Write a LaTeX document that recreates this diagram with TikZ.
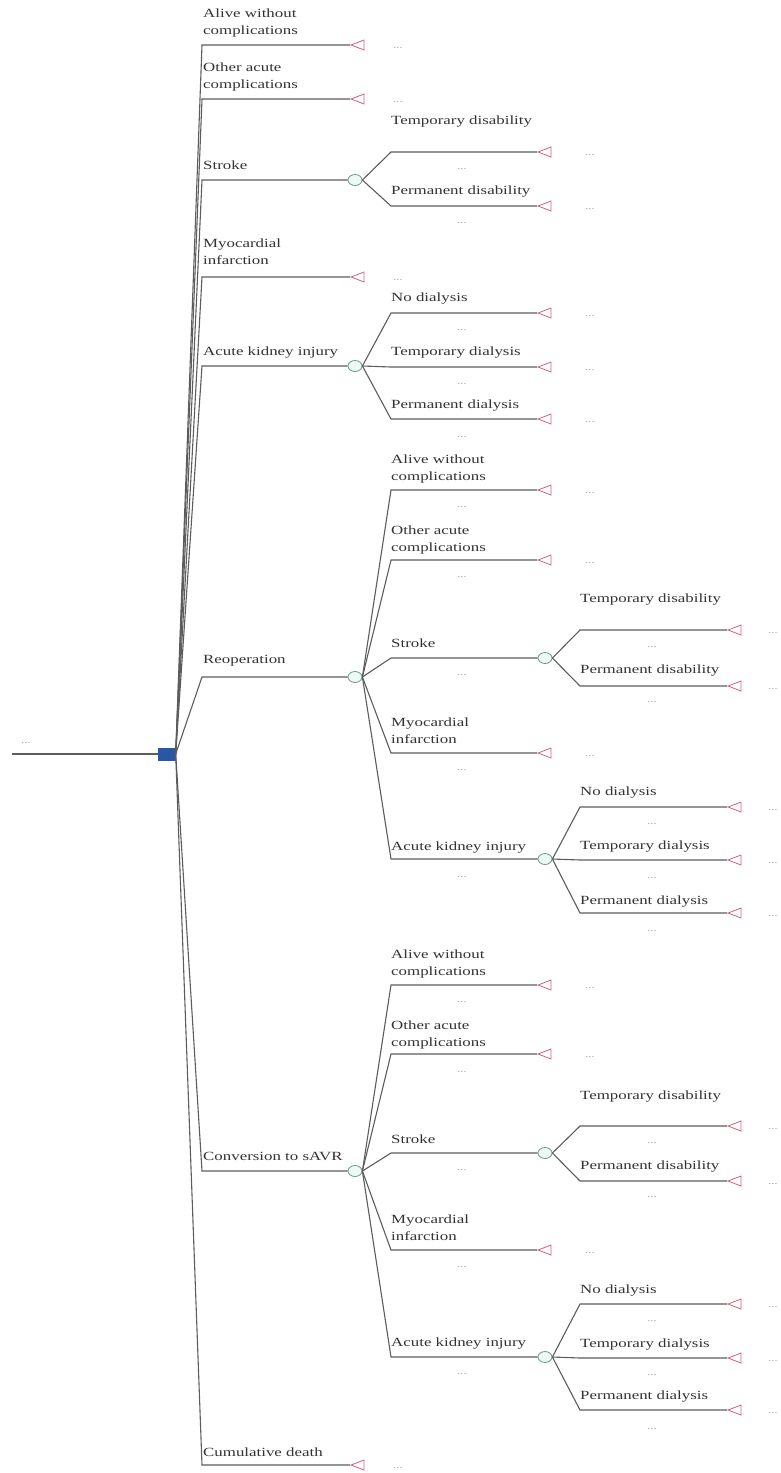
\documentclass[tikz,border=0pt]{standalone}
\usepackage{fontspec}
\setmainfont{Liberation Serif}[FakeStretch=1.35]
\usetikzlibrary{shapes.geometric}
\definecolor{edgec}{HTML}{5C5C5C}
\definecolor{trunkc}{HTML}{2E2E2E}
\definecolor{termc}{HTML}{D0607A}
\definecolor{chc}{HTML}{6A9A8A}
\definecolor{chf}{HTML}{EEF9F5}
\definecolor{decc}{HTML}{2A56A8}
\definecolor{textc}{HTML}{333333}
\definecolor{dotc}{HTML}{9A9A9A}
\tikzset{
 edge/.style={draw=edgec, line width=1.1pt},
 term/.style={isosceles triangle, shape border rotate=180, isosceles triangle stretches,
   minimum width=10pt, minimum height=13pt, inner sep=0pt, draw=termc, line width=0.8pt},
 chance/.style={ellipse, minimum width=14pt, minimum height=11pt, inner sep=0pt,
   draw=chc, fill=chf, line width=0.8pt},
 dec/.style={rectangle, minimum width=17pt, minimum height=12pt, inner sep=0pt,
   fill=decc, draw=decc},
 lab/.style={anchor=west, align=left, inner sep=0pt, text=textc,
   font=\fontsize{12.5}{17}\selectfont},
 dots/.style={inner sep=0pt, text=dotc, font=\fontsize{9}{10}\selectfont},
}
\newcommand\Leaf[5]{%
  \coordinate (#1k) at (#3,#4);
  \node[term, anchor=apex] (#1) at (#5,#4) {};
  \draw[edge] (#2) -- (#1k) -- (#1.apex);}
\newcommand\Chance[5]{%
  \coordinate (#1k) at (#3,#4);
  \node[chance] (#1) at (#5,#4) {};
  \draw[edge] (#2) -- (#1k) -- (#1.west);}
\newcommand\Lab[4]{\node[lab] (#1) at (#2,#3) {#4};}
\newcommand\Dots[3]{\node[dots] (#1) at (#2,#3) {...};}
\begin{document}
\begin{tikzpicture}[x=1pt,y=-1pt]
\useasboundingbox (0,0) rectangle (781,1473);
% root
\node[dec] (D) at (167,754) {};
\coordinate (root) at (12,754);
\draw[edge] (root) -- (D.west);
\Dots{d0}{26}{743}
% level 1
\Leaf{t1}{D.east}{202}{45}{350}
\Lab{l1}{203}{22.5}{Alive without\\complications}
\Dots{d1}{398}{48}
\Leaf{t2}{D.east}{202}{99}{350}
\Lab{l2}{203}{76.5}{Other acute\\complications}
\Dots{d2}{398}{102}
\Chance{c3}{D.east}{202}{180}{355}
\Lab{l3}{203}{165}{Stroke}
 \Leaf{t31}{c3.east}{391}{152}{537}\Lab{l31}{391}{122}{Temporary disability}\Dots{u31}{462}{169}\Dots{d31}{590}{155}
 \Leaf{t32}{c3.east}{391}{206}{537}\Lab{l32}{391}{192}{Permanent disability}\Dots{u32}{462}{223}\Dots{d32}{590}{209}
\Leaf{t4}{D.east}{202}{277}{350}
\Lab{l4}{203}{252}{Myocardial\\infarction}
\Dots{d4}{398}{280}
\Chance{c5}{D.east}{202}{366}{355}
\Lab{l5}{203}{353}{Acute kidney injury}
 \Leaf{t51}{c5.east}{391}{313}{537}\Lab{l51}{391}{299}{No dialysis}\Dots{u51}{462}{330}\Dots{d51}{590}{316}
 \Leaf{t52}{c5.east}{391}{367}{537}\Lab{l52}{391}{353}{Temporary dialysis}\Dots{u52}{462}{384}\Dots{d52}{590}{370}
 \Leaf{t53}{c5.east}{391}{419}{537}\Lab{l53}{391}{406}{Permanent dialysis}\Dots{u53}{462}{437}\Dots{d53}{590}{422}
% Reoperation
\Chance{c6}{D.east}{202}{677}{355}
\Lab{l6}{203}{661}{Reoperation}
 \Leaf{t61}{c6.east}{391}{490}{537}\Lab{l61}{391}{468.5}{Alive without\\complications}\Dots{u61}{462}{507}\Dots{d61}{590}{493}
 \Leaf{t62}{c6.east}{391}{560}{537}\Lab{l62}{391}{539.5}{Other acute\\complications}\Dots{u62}{462}{577}\Dots{d62}{590}{563}
 \Chance{c63}{c6.east}{391}{658}{545}\Lab{l63}{391}{643}{Stroke}\Dots{u63}{462}{675}
  \Leaf{t631}{c63.east}{580}{630}{727}\Lab{l631}{580}{600}{Temporary disability}\Dots{u631}{652}{647}\Dots{d631}{773}{633}
  \Leaf{t632}{c63.east}{580}{686}{727}\Lab{l632}{580}{671}{Permanent disability}\Dots{u632}{652}{702}\Dots{d632}{773}{689}
 \Leaf{t64}{c6.east}{391}{753}{537}\Lab{l64}{391}{731}{Myocardial\\infarction}\Dots{u64}{462}{770}\Dots{d64}{590}{756}
 \Chance{c65}{c6.east}{391}{859}{545}\Lab{l65}{391}{848}{Acute kidney injury}\Dots{u65}{462}{877}
  \Leaf{t651}{c65.east}{580}{807}{727}\Lab{l651}{580}{793}{No dialysis}\Dots{u651}{652}{824}\Dots{d651}{773}{810}
  \Leaf{t652}{c65.east}{580}{860}{727}\Lab{l652}{580}{847}{Temporary dialysis}\Dots{u652}{652}{878}\Dots{d652}{773}{863}
  \Leaf{t653}{c65.east}{580}{913}{727}\Lab{l653}{580}{901}{Permanent dialysis}\Dots{u653}{652}{931}\Dots{d653}{773}{916}
% Conversion
\Chance{c7}{D.east}{202}{1171}{355}
\Lab{l7}{203}{1156}{Conversion to sAVR}
 \Leaf{t71}{c7.east}{391}{985}{537}\Lab{l71}{391}{964}{Alive without\\complications}\Dots{u71}{462}{1002}\Dots{d71}{590}{988}
 \Leaf{t72}{c7.east}{391}{1054}{537}\Lab{l72}{391}{1034.5}{Other acute\\complications}\Dots{u72}{462}{1072}\Dots{d72}{590}{1057}
 \Chance{c73}{c7.east}{391}{1153}{545}\Lab{l73}{391}{1139}{Stroke}\Dots{u73}{462}{1170}
  \Leaf{t731}{c73.east}{580}{1126}{727}\Lab{l731}{580}{1096}{Temporary disability}\Dots{u731}{652}{1143}\Dots{d731}{773}{1129}
  \Leaf{t732}{c73.east}{580}{1181}{727}\Lab{l732}{580}{1166}{Permanent disability}\Dots{u732}{652}{1197}\Dots{d732}{773}{1184}
 \Leaf{t74}{c7.east}{391}{1250}{537}\Lab{l74}{391}{1228}{Myocardial\\infarction}\Dots{u74}{462}{1267}\Dots{d74}{590}{1253}
 \Chance{c75}{c7.east}{391}{1357}{545}\Lab{l75}{391}{1343}{Acute kidney injury}\Dots{u75}{462}{1374}
  \Leaf{t751}{c75.east}{580}{1304}{727}\Lab{l751}{580}{1290}{No dialysis}\Dots{u751}{652}{1321}\Dots{d751}{773}{1307}
  \Leaf{t752}{c75.east}{580}{1358}{727}\Lab{l752}{580}{1344}{Temporary dialysis}\Dots{u752}{652}{1375}\Dots{d752}{773}{1361}
  \Leaf{t753}{c75.east}{580}{1410}{727}\Lab{l753}{580}{1396}{Permanent dialysis}\Dots{u753}{652}{1429}\Dots{d753}{773}{1413}
% Cumulative death
\Leaf{t8}{D.east}{202}{1465}{350}
\Lab{l8}{203}{1452}{Cumulative death}
\Dots{d8}{398}{1468}
\end{tikzpicture}
\end{document}
